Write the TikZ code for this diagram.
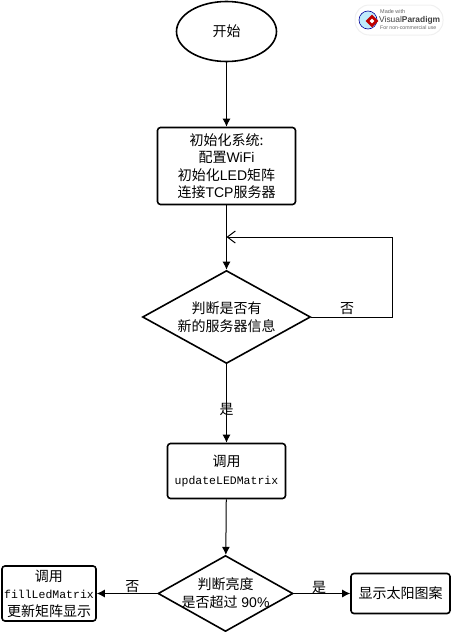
\documentclass[tikz,border=0pt]{standalone}
\usepackage{fontspec}
\usepackage{tikz}
\usetikzlibrary{shapes.geometric,arrows.meta}
\setmainfont{Liberation Sans}
\setmonofont{Liberation Mono}
\newfontfamily\cjk{Noto Sans CJK SC}
\newcommand{\zh}[1]{{\cjk #1}}
\newcommand{\code}[1]{{\ttfamily\fontsize{11.5}{17.5}\selectfont #1}}
\tikzset{
    flowtext/.style={font=\fontsize{14}{17.5}\selectfont,align=center,inner sep=0pt},
    startnode/.style={flowtext,ellipse,draw,line width=1.6pt,minimum width=100pt,minimum height=60pt},
    flowbox/.style={flowtext,rectangle,draw,line width=1.6pt,rounded corners=3pt},
    choice/.style={diamond,draw,line width=1.6pt,inner sep=0pt},
    choicetext/.style={flowtext,font=\fontsize{14}{18}\selectfont},
    flowline/.style={line width=1pt,-{Latex[length=8pt,width=8pt]}},
    edgelabel/.style={font=\fontsize{14}{15}\selectfont,inner sep=0pt}
}

\begin{document}
\begin{tikzpicture} [x=1pt,y=-1pt]
            \useasboundingbox (0,0) rectangle (451,632);
            \node[startnode] (start) at (226.5,31.5) {\zh{开始}};
            \node[flowbox,minimum width=138pt,minimum height=77pt] (init) at (226.5,166) {\zh{初始化系统:}\\\zh{配置}WiFi\\\zh{初始化}LED\zh{矩阵}\\\zh{连接}TCP\zh{服务器}};
            \node[choice,minimum width=168pt,minimum height=93pt,label={[choicetext]center:\zh{判断是否有}\\\zh{新的服务器信息}}] (check) at (226.5,317) {};
            \node[flowbox,minimum width=118pt,minimum height=55pt] (update) at (226.5,471) {\zh{调用}\\\code{updateLEDMatrix}};
            \node[choice,minimum width=135pt,minimum height=76pt,label={[choicetext]center:\zh{判断亮度}\\\zh{是否超过} 90\%}] (bright) at (225.5,593.5) {};
            \node[flowbox,minimum width=94pt,minimum height=55pt] (fill) at (49,593.5) {\zh{调用}\\\code{fillLedMatrix}\\\zh{更新矩阵显示}};
            \node[flowbox,minimum width=99pt,minimum height=40pt] (sun) at (400.5,593.5) {\zh{显示太阳图案}};
            \coordinate (merge) at (226.5,237); \coordinate (loopa) at (392,317); \coordinate (loopb) at (392,237);
            \draw[flowline] (start) -- (start |- init.north);
            \draw[flowline] (init) -- (check);
            \draw[line width=1pt,-{Straight Barb[length=8pt,width=12pt]}] (check.east) -- (loopa) -- (loopb) -- (merge);
            \draw[flowline] (check) -- node[edgelabel,pos=0.58] (yesa) {\zh{是}} (update);
            \draw[flowline] (update) -- (bright);
            \draw[flowline] (bright) -- node[edgelabel,above=0pt,pos=0.41] (nob) {\zh{否}} (fill);
            \draw[flowline] (bright) -- node[edgelabel,above=-1pt,pos=0.45] (yesb) {\zh{是}} (sun);
            \node[edgelabel] (nolabel) at (347,309) {\zh{否}};
            % badge
            \node[draw=black!6,fill=white,rounded corners=14pt,line width=1pt,minimum width=88pt,minimum height=30pt] (badge) at (399,20) {};
            \node[circle,draw=blue!60!black,fill=cyan!25,line width=0.6pt,minimum size=18pt,inner sep=0pt] (globe) at (368,20) {};
            \node[diamond,fill=red!75!black,minimum size=13pt,inner sep=0pt] (mark) at (372,21) {};
            \node[diamond,fill=white,minimum size=5pt,inner sep=0pt] (markin) at (372,21) {};
            \node[anchor=west,inner sep=0pt,text=black!60,font=\fontsize{5.5}{6}\selectfont] (made) at (380,12) {Made with};
            \node[anchor=west,inner sep=0pt,text=black!75,font=\fontsize{8.4}{10}\selectfont] (vp) at (379,20) {Visual\textbf{Paradigm}};
            \node[anchor=west,inner sep=0pt,text=black!60,font=\fontsize{5.2}{6}\selectfont] (usage) at (380,28) {For non-commercial use};
        \end{tikzpicture}
\end{document}
